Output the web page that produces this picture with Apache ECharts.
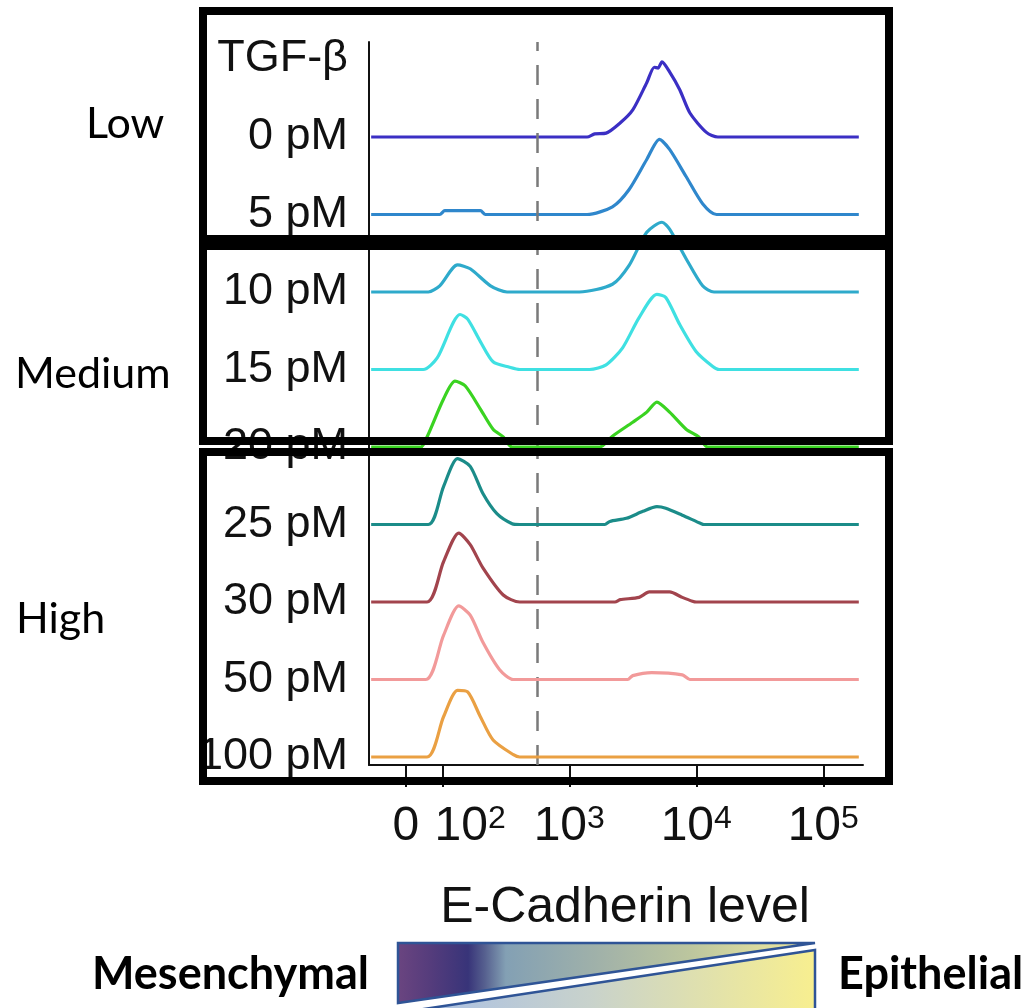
<!DOCTYPE html>
<html>
<head>
<meta charset="utf-8">
<script src="https://cdn.jsdelivr.net/npm/echarts@6/dist/echarts.min.js"></script>
<style>
  html, body { margin: 0; padding: 0; background: #ffffff; }
  #chart { width: 1024px; height: 1008px; }
</style>
</head>
<body>
<div id="chart"></div>
<script>
// TGF-beta doses, top to bottom
const doses = ['0 pM', '5 pM', '10 pM', '15 pM', '20 pM', '25 pM', '30 pM', '50 pM', '100 pM'];
const doseColors = ['#3b2fc4', '#2f87cc', '#2eaacb', '#3fe0e2', '#3ad321', '#1b8c89', '#a2444d', '#f29a9a', '#eaa043'];

// E-Cadherin histograms: [display level in decades (2 = 10^2, 3 = 10^3 ...), normalised cell count]
const hist0pM = [[1.44,0],[3.14,0],[3.20,0.04],[3.29,0.05],[3.40,0.18],[3.50,0.35],[3.61,0.70],[3.67,0.90],[3.70,0.89],[3.73,0.97],[3.79,0.84],[3.87,0.61],[3.95,0.31],[4.08,0.06],[4.17,0],[5.28,0]];
const hist5pM = [[1.44,0],[1.98,0],[2.02,0.05],[2.30,0.05],[2.34,0],[3.14,0],[3.34,0.10],[3.47,0.32],[3.61,0.71],[3.71,0.97],[3.79,0.84],[3.92,0.49],[4.05,0.14],[4.16,0],[5.28,0]];
const hist10pM = [[1.44,0],[1.89,0],[1.98,0.08],[2.12,0.35],[2.22,0.30],[2.38,0.08],[2.51,0],[3.08,0],[3.34,0.10],[3.47,0.34],[3.61,0.77],[3.73,0.90],[3.79,0.81],[3.92,0.43],[4.05,0.08],[4.14,0],[5.28,0]];
const hist15pM = [[1.44,0],[1.85,0],[1.96,0.15],[2.14,0.71],[2.20,0.65],[2.30,0.36],[2.40,0.10],[2.53,0.03],[2.61,0],[3.16,0],[3.29,0.06],[3.42,0.28],[3.55,0.67],[3.69,0.97],[3.76,0.93],[3.87,0.58],[4.00,0.23],[4.13,0.04],[4.18,0],[5.28,0]];
const hist20pM = [[1.44,0],[1.83,0],[1.88,0.13],[2.01,0.62],[2.10,0.85],[2.18,0.79],[2.30,0.49],[2.40,0.23],[2.48,0.13],[2.55,0],[3.24,0],[3.34,0.14],[3.50,0.32],[3.61,0.45],[3.69,0.58],[3.79,0.45],[3.92,0.23],[4.02,0.13],[4.09,0],[5.28,0]];
const hist25pM = [[1.44,0],[1.89,0],[2.01,0.49],[2.12,0.85],[2.22,0.75],[2.32,0.40],[2.43,0.14],[2.55,0.01],[2.61,0],[3.28,0],[3.32,0.04],[3.45,0.08],[3.58,0.17],[3.69,0.23],[3.76,0.21],[3.89,0.12],[4.04,0.01],[4.06,0],[5.28,0]];
const hist30pM = [[1.44,0],[1.88,0],[2.01,0.52],[2.13,0.89],[2.22,0.74],[2.32,0.44],[2.48,0.09],[2.61,0],[3.36,0],[3.40,0.03],[3.55,0.06],[3.63,0.13],[3.79,0.13],[3.89,0.06],[3.97,0.01],[4.00,0],[5.28,0]];
const hist50pM = [[1.44,0],[1.87,0],[2.01,0.57],[2.13,0.95],[2.22,0.83],[2.32,0.48],[2.45,0.13],[2.56,0],[3.46,0],[3.50,0.05],[3.65,0.09],[3.89,0.06],[3.95,0],[5.28,0]];
const hist100pM = [[1.44,0],[1.88,0],[2.01,0.52],[2.12,0.86],[2.20,0.84],[2.30,0.52],[2.40,0.22],[2.56,0.03],[2.61,0],[5.28,0]];
const histograms = [hist0pM, hist5pM, hist10pM, hist15pM, hist20pM, hist25pM, hist30pM, hist50pM, hist100pM];

// x axis ticks (biexponential display: 0, then decades)
const tickValues = [1.714, 2, 3, 4, 5];
const tickLabels = ['0', '10^2', '10^3', '10^4', '10^5'];
// E-Cadherin gate separating low and high expressers
const gateLevel = 2.746;

const groupNames = ['Low', 'Medium', 'High'];
const poleNames = ['Mesenchymal', 'Epithelial'];

const sans = '"Liberation Sans", Arial, Helvetica, sans-serif';
const office = 'Lato, "Open Sans", sans-serif';
const ink = '#111111';
const nRows = doses.length;

// the 10^2 label sits a little to the right so it clears the "0" label
const labelValues = tickValues.map((v, i) => (i === 1 ? v + 0.22 : v));

const chart = echarts.init(document.getElementById('chart'), null, { renderer: 'canvas' });

const series = histograms.map((hist, i) => {
  const row = nRows - 1 - i;
  const s = {
    name: doses[i],
    type: 'line',
    data: hist.map(([x, h]) => [x, row + h]),
    showSymbol: false,
    symbol: 'none',
    smooth: 0.25,
    lineStyle: { color: doseColors[i], width: 3.2 },
    itemStyle: { color: doseColors[i] },
    z: 3 + i,
    silent: true
  };
  if (i === 0) {
    s.markLine = {
      silent: true,
      symbol: ['none', 'none'],
      label: { show: false },
      lineStyle: { color: '#7a7a7a', width: 2.5, type: [20, 14] },
      data: [{ xAxis: gateLevel }]
    };
  }
  return s;
});

function tickFormatter(v) {
  let idx = 0, best = Infinity;
  tickValues.forEach((t, i) => { const d = Math.abs(t - v); if (d < best) { best = d; idx = i; } });
  const t = tickLabels[idx];
  if (t.indexOf('^') >= 0) {
    const parts = t.split('^');
    return '{b|' + parts[0] + '}{s|' + parts[1] + '}';
  }
  return '{b|' + t + '}';
}

const labelRich = {
  b: { fontFamily: sans, fontSize: 48, color: ink, lineHeight: 48, verticalAlign: 'bottom' },
  s: { fontFamily: sans, fontSize: 32, color: ink, lineHeight: 20, verticalAlign: 'top' }
};

const boxStyle = { fill: 'none', stroke: '#000000', lineWidth: 8 };

const option = {
  animation: false,
  backgroundColor: '#ffffff',
  grid: { left: 369, top: 42, width: 494, height: 723, containLabel: false },
  xAxis: {
    type: 'value',
    min: 1.423,
    max: 5.313,
    splitLine: { show: false },
    axisLine: { show: true, onZero: false, lineStyle: { color: ink, width: 2 } },
    axisTick: { show: true, customValues: tickValues, length: 22, lineStyle: { color: ink, width: 2 } },
    axisLabel: {
      customValues: labelValues,
      hideOverlap: false,
      margin: 38,
      formatter: tickFormatter,
      rich: labelRich
    },
    name: 'E-Cadherin level',
    nameLocation: 'middle',
    nameGap: 118,
    nameTextStyle: { fontFamily: sans, fontSize: 50, color: ink, padding: [0, 0, 0, 18] }
  },
  yAxis: {
    type: 'value',
    min: -0.103,
    max: 9.226,
    splitLine: { show: false },
    axisLine: { show: true, lineStyle: { color: ink, width: 2 } },
    axisTick: { show: false },
    axisLabel: {
      customValues: [0, 1, 2, 3, 4, 5, 6, 7, 8],
      hideOverlap: false,
      formatter: v => doses[nRows - 1 - Math.round(v)],
      margin: 21,
      fontFamily: sans,
      fontSize: 45,
      color: ink,
      padding: [0, 0, 14, 0]
    },
    name: 'TGF-β',
    nameLocation: 'end',
    nameGap: -17,
    nameTextStyle: { fontFamily: sans, fontSize: 45, color: ink, align: 'right', verticalAlign: 'middle', padding: [0, 21, 0, 0] }
  },
  series: series,
  graphic: {
    elements: [
      { type: 'rect', z: 100, shape: { x: 203, y: 11, width: 686, height: 228 }, style: boxStyle },
      { type: 'rect', z: 100, shape: { x: 203, y: 246, width: 686, height: 195 }, style: boxStyle },
      { type: 'rect', z: 100, shape: { x: 203, y: 452, width: 686, height: 329 }, style: boxStyle },
      { type: 'text', z: 100, x: 86, y: 124, style: { text: groupNames[0], font: '43px ' + office, fill: '#000', textVerticalAlign: 'middle' } },
      { type: 'text', z: 100, x: 15, y: 374, style: { text: groupNames[1], font: '43px ' + office, fill: '#000', textVerticalAlign: 'middle' } },
      { type: 'text', z: 100, x: 16, y: 619, style: { text: groupNames[2], font: '43px ' + office, fill: '#000', textVerticalAlign: 'middle' } },
      { type: 'text', z: 100, x: 92, y: 974, style: { text: poleNames[0], font: 'bold 45px ' + office, fill: '#000', textVerticalAlign: 'middle' } },
      { type: 'text', z: 100, x: 838, y: 974, style: { text: poleNames[1], font: 'bold 45px ' + office, fill: '#000', textVerticalAlign: 'middle' } },
      {
        type: 'polygon', z: 100,
        shape: { points: [[398, 943], [815, 943], [398, 1003]] },
        style: {
          fill: new echarts.graphic.LinearGradient(0, 0, 1, 0, [
            { offset: 0, color: '#6b4580' },
            { offset: 0.08, color: '#553c7c' },
            { offset: 0.17, color: '#383479' },
            { offset: 0.21, color: '#56608f' },
            { offset: 0.26, color: '#83a0b4' },
            { offset: 0.5, color: '#a3b3a8' },
            { offset: 0.7, color: '#bcc69e' },
            { offset: 0.88, color: '#dedd9f' },
            { offset: 1, color: '#f2eb98' }
          ]),
          stroke: '#2f5496',
          lineWidth: 2.5,
          lineJoin: 'miter'
        }
      },
      {
        type: 'polygon', z: 100,
        shape: { points: [[404, 1012], [815, 950], [815, 1012]] },
        style: {
          fill: new echarts.graphic.LinearGradient(0, 0, 1, 0, [
            { offset: 0, color: '#a6bde6' },
            { offset: 0.45, color: '#c8d2cc' },
            { offset: 1, color: '#f8ef8f' }
          ]),
          stroke: '#2f5496',
          lineWidth: 2.5
        }
      }
    ]
  }
};

chart.setOption(option);
</script>
</body>
</html>
